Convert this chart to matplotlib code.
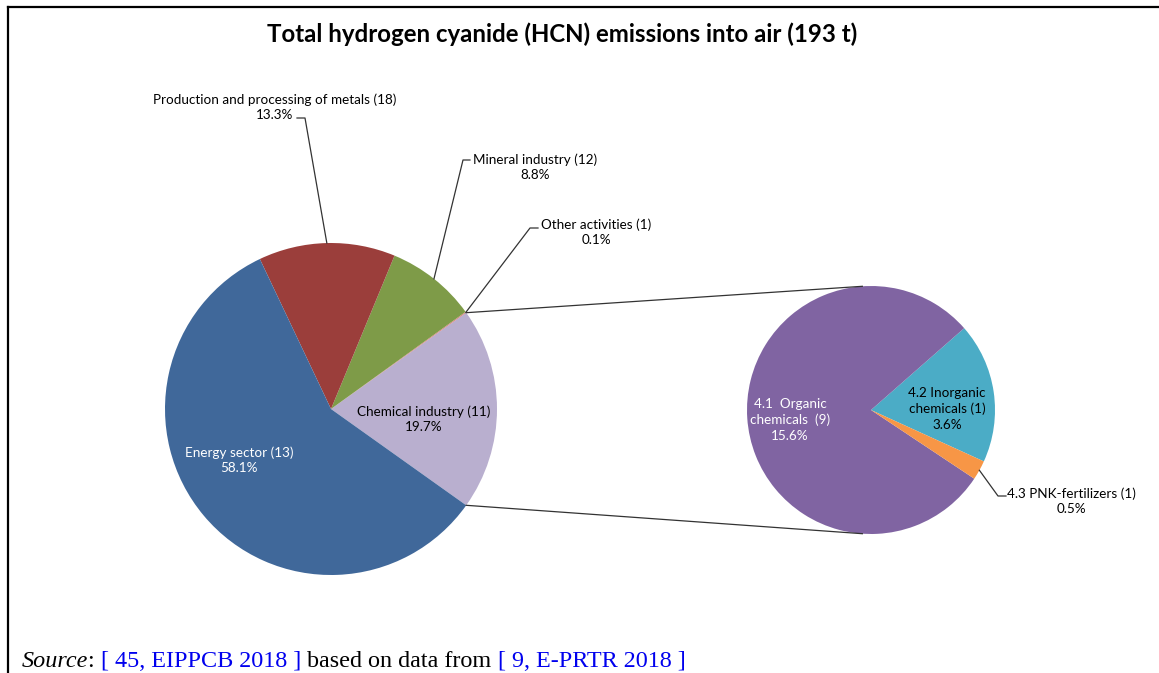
import matplotlib.pyplot as plt
import numpy as np

W, H = 1159, 673

# --- Data ---
main_labels = ["Chemical industry (11)", "Other activities (1)", "Mineral industry (12)",
               "Production and processing of metals (18)", "Energy sector (13)"]
main_pct = [19.7, 0.1, 8.8, 13.3, 58.1]
main_colors = ["#B9AFCF", "#D9837E", "#7E9B48", "#9B3E3B", "#40689A"]

sub_labels = ["4.2 Inorganic\nchemicals (1)", "4.1  Organic\nchemicals  (9)", "4.3 PNK-fertilizers (1)"]
sub_pct = [3.6, 15.6, 0.5]
sub_colors = ["#4BACC6", "#8064A2", "#F79646"]

title = "Total hydrogen cyanide (HCN) emissions into air (193 t)"

plt.rcParams.update({"font.family": ["Lato", "DejaVu Sans"]})

fig = plt.figure(figsize=(W / 100, H / 100), dpi=100)
ax = fig.add_axes([0, 0, 1, 1])

# pixel-style helper: image y (top-down) -> data y (bottom-up)
def fy(y):
    return H - y

main_c = (331, fy(409))
main_r = 166
sub_c = (871, fy(410))
sub_r = 124

wedges, _ = ax.pie(main_pct, colors=main_colors, startangle=-main_pct[0] * 3.6 / 2,
                   center=main_c, radius=main_r, wedgeprops=dict(linewidth=0))
sub_wedges, _ = ax.pie(sub_pct, colors=sub_colors, startangle=-24.5,
                       center=sub_c, radius=sub_r, wedgeprops=dict(linewidth=0))

ax.set_xlim(0, W)
ax.set_ylim(0, H)
ax.set_aspect("equal")
ax.axis("off")


def edge_point(c, r, ang):
    a = np.deg2rad(ang)
    return c[0] + r * np.cos(a), c[1] + r * np.sin(a)


line_col = "#333333"

# connector lines from the chemical slice to the secondary pie
chem = wedges[0]
p1 = edge_point(main_c, main_r, chem.theta2)
p2 = edge_point(main_c, main_r, chem.theta1)
q1 = edge_point(sub_c, sub_r, 94)
q2 = edge_point(sub_c, sub_r, -94)
ax.plot([p1[0], q1[0]], [p1[1], q1[1]], color=line_col, lw=0.9)
ax.plot([p2[0], q2[0]], [p2[1], q2[1]], color=line_col, lw=0.9)

fs = 9.7
ls = 1.35

def label(txt, pct, x, y, color="black"):
    ax.text(x, fy(y), f"{txt}\n{pct}%", ha="center", va="center", fontsize=fs,
            color=color, linespacing=ls)

def leader(w, c, r, elbow, end):
    mid = (w.theta1 + w.theta2) / 2
    p = edge_point(c, r, mid)
    ax.plot([p[0], elbow[0], end[0]], [p[1], fy(elbow[1]), fy(end[1])],
            color=line_col, lw=0.9)

# outside labels with leader lines
label(main_labels[3], main_pct[3], 275, 107)
leader(wedges[3], main_c, main_r, (305, 118), (297, 118))
label(main_labels[2], main_pct[2], 535, 167)
leader(wedges[2], main_c, main_r, (463, 160), (470, 160))
label(main_labels[1], main_pct[1], 596, 232)
leader(wedges[1], main_c, main_r, (530, 228), (538, 228))

# inside labels
label(main_labels[0], main_pct[0], 424, 419)
label(main_labels[4], main_pct[4], 239, 460, color="white")
label(sub_labels[1], sub_pct[1], 790, 420, color="white")
label(sub_labels[0], sub_pct[0], 947, 409)

label(sub_labels[2], sub_pct[2], 1071, 501)
leader(sub_wedges[2], sub_c, sub_r, (998, 496), (1006, 496))

ax.text(562, fy(34), title, ha="center", va="center", fontsize=17.3, fontweight="bold")

# frame
ax.plot([8, W], [fy(7), fy(7)], color="black", lw=1.6, clip_on=False)
ax.plot([8, 8], [fy(7), 0], color="black", lw=1.6, clip_on=False)

# source line, built piece by piece
pieces = [("Source", "black", "italic"), (": ", "black", "normal"),
          ("[ 45, EIPPCB 2018 ]", "#0000EE", "normal"), (" based on data from ", "black", "normal"),
          ("[ 9, E-PRTR 2018 ]", "#0000EE", "normal")]
renderer = fig.canvas.get_renderer()
x = 22
for txt, col, style in pieces:
    t = ax.text(x, fy(667), txt, ha="left", va="baseline", fontsize=17.4,
                family="Liberation Serif", style=style, color=col)
    bb = t.get_window_extent(renderer=renderer)
    x = ax.transData.inverted().transform((bb.x1, bb.y0))[0]

fig.savefig("out.png", dpi=100)
